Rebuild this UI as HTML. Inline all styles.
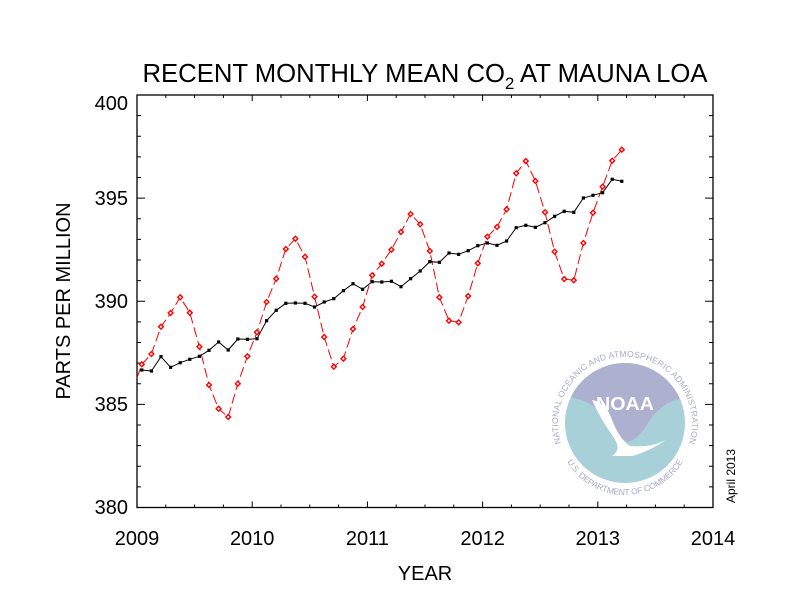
<!DOCTYPE html>
<html><head><meta charset="utf-8"><style>
html,body{margin:0;padding:0;background:#fff;}
svg{display:block;font-family:"Liberation Sans",Arial,sans-serif;}
</style></head><body>
<svg width="792" height="612" viewBox="0 0 792 612" xmlns="http://www.w3.org/2000/svg">
<rect width="792" height="612" fill="#fff"/>
<!-- NOAA logo -->
<g>
<defs><clipPath id="dc"><circle cx="625" cy="423" r="60"/></clipPath>
<path id="ring" d="M 570 462 A 67 67 0 1 1 680 462"/>
<path id="ring2" d="M 558 428 A 67 67 0 0 0 692 428"/></defs>
<g clip-path="url(#dc)">
<rect x="560" y="360" width="130" height="130" fill="#a8d0d8"/>
<path d="M560 360 L690 360 L690 398 Q 665 398 650 420 Q 640 438 628 442 Q 614 436 604 418 Q 592 398 560 396 Z" fill="#aeb0d0"/>
<path d="M592 400 Q 606 402 612 420 Q 620 440 630 446 Q 650 448 666 440 Q 648 452 632 456 L 612 456 Q 622 450 614 438 Q 600 418 592 400 Z" fill="#fff"/>
</g>
<text x="625" y="410" font-size="18" font-weight="bold" fill="#fff" text-anchor="middle" textLength="58" lengthAdjust="spacingAndGlyphs">NOAA</text>
<text font-size="8.5" fill="#a8aacc"><textPath href="#ring" startOffset="50%" text-anchor="middle" textLength="250" lengthAdjust="spacing">NATIONAL OCEANIC AND ATMOSPHERIC ADMINISTRATION</textPath></text>
<text font-size="8.5" fill="#a8aacc"><textPath href="#ring2" startOffset="50%" text-anchor="middle" textLength="140" lengthAdjust="spacing">U.S. DEPARTMENT OF COMMERCE</textPath></text>
</g>
<!-- axes box -->
<rect x="137" y="95" width="576" height="412.5" fill="none" stroke="#000" stroke-width="1.3"/>
<g stroke="#000" stroke-width="1">
<path d="M252.2 507.5v-6M367.4 507.5v-6M482.6 507.5v-6M597.8 507.5v-6M252.2 95v6M367.4 95v6M482.6 95v6M597.8 95v6"/>
<path d="M165.8 507.5v-3M194.6 507.5v-3M223.4 507.5v-3M281 507.5v-3M309.8 507.5v-3M338.6 507.5v-3M396.2 507.5v-3M425 507.5v-3M453.8 507.5v-3M511.4 507.5v-3M540.2 507.5v-3M569 507.5v-3M626.6 507.5v-3M655.4 507.5v-3M684.2 507.5v-3
M165.8 95v3M194.6 95v3M223.4 95v3M281 95v3M309.8 95v3M338.6 95v3M396.2 95v3M425 95v3M453.8 95v3M511.4 95v3M540.2 95v3M569 95v3M626.6 95v3M655.4 95v3M684.2 95v3"/>
<path d="M137 198.1h8M137 301.2h8M137 404.4h8M713 198.1h-8M713 301.2h-8M713 404.4h-8"/>
<path d="M137 115.6h4M137 136.3h4M137 156.9h4M137 177.5h4M137 218.8h4M137 239.4h4M137 260h4M137 280.6h4M137 321.9h4M137 342.5h4M137 363.1h4M137 383.8h4M137 425h4M137 445.6h4M137 466.3h4M137 486.9h4
M713 115.6h-4M713 136.3h-4M713 156.9h-4M713 177.5h-4M713 218.8h-4M713 239.4h-4M713 260h-4M713 280.6h-4M713 321.9h-4M713 342.5h-4M713 363.1h-4M713 383.8h-4M713 425h-4M713 445.6h-4M713 466.3h-4M713 486.9h-4"/>
</g>
<text x="425" y="82" font-size="26" text-anchor="middle" textLength="565" lengthAdjust="spacingAndGlyphs">RECENT MONTHLY MEAN CO<tspan font-size="17" dy="7">2</tspan><tspan dy="-7"> AT MAUNA LOA</tspan></text>
<g font-size="20" text-anchor="end">
<text x="128" y="110">400</text><text x="128" y="205">395</text><text x="128" y="308">390</text><text x="128" y="411">385</text><text x="128" y="514">380</text>
</g>
<g font-size="20" text-anchor="middle">
<text x="137" y="545">2009</text><text x="252.2" y="545">2010</text><text x="367.4" y="545">2011</text><text x="482.6" y="545">2012</text><text x="597.8" y="545">2013</text><text x="713" y="545">2014</text>
<text x="425" y="580">YEAR</text>
<text transform="translate(70,301) rotate(-90)">PARTS PER MILLION</text>
</g>
<text transform="translate(735,503) rotate(-90)" font-size="12">April 2013</text>
<polyline fill="none" stroke="#f00" stroke-width="1" stroke-dasharray="10,4" points="137,378 141.8,364.3 151.4,354 161,326.7 170.6,313 180.2,297.3 189.8,312.7 199.4,346.7 209,385 218.6,408.7 228.2,417 237.8,383.7 247.4,356.3 257,332.3 266.6,302 276.2,278.7 285.8,249 295.4,238.7 305,256.7 314.6,296.7 324.2,337 333.8,366.7 343.4,358.7 353,329 362.6,307 372.2,275.3 381.8,263.7 391.4,249.7 401,232 410.6,214 420.2,224.3 429.8,251 439.4,297.3 449,320.7 458.6,322.3 468.2,296 477.8,263.3 487.4,236.7 497,227 506.6,209.3 516.2,173.3 525.8,161 535.4,181 545,212.3 554.6,251.7 564.2,279 573.8,280.3 583.4,243 593,212.7 602.6,186.7 612.2,160.7 621.8,149.7"/>
<polyline fill="none" stroke="#000" stroke-width="1" points="141.8,370 151.4,371 161,356.7 170.6,367.3 180.2,362.7 189.8,359.3 199.4,356.3 209,350.3 218.6,342 228.2,350 237.8,339 247.4,339.3 257,338.7 266.6,320.7 276.2,310.3 285.8,303.3 295.4,303 305,303.3 314.6,307 324.2,302 333.8,298.7 343.4,290.7 353,283.7 362.6,289.3 372.2,281.7 381.8,282 391.4,281.3 401,286.7 410.6,278.7 420.2,271 429.8,261.7 439.4,262.3 449,253 458.6,254.3 468.2,250.7 477.8,245.7 487.4,243 497,245.3 506.6,241 516.2,227.7 525.8,225.3 535.4,227.3 545,222.7 554.6,216.3 564.2,211.3 573.8,212.3 583.4,198 593,195.3 602.6,192.7 612.2,179.3 621.8,181.3"/>
<g id="marks"></g>
<script>
(function(){
var ns="http://www.w3.org/2000/svg";
var g=document.getElementById("marks");
var pl=document.querySelectorAll("polyline");
var red=pl[0].getAttribute("points").trim().split(/\s+/).slice(1);
red.forEach(function(p){var a=p.split(",");var c=document.createElementNS(ns,"rect");
c.setAttribute("x",+a[0]-1.7);c.setAttribute("y",+a[1]-1.7);c.setAttribute("width",3.4);c.setAttribute("height",3.4);
c.setAttribute("transform","rotate(45 "+a[0]+" "+a[1]+")");c.setAttribute("fill","#fff");c.setAttribute("stroke","#f00");c.setAttribute("stroke-width","1.4");g.appendChild(c);});
var bl=pl[1].getAttribute("points").trim().split(/\s+/);
bl.forEach(function(p){var a=p.split(",");var c=document.createElementNS(ns,"rect");
c.setAttribute("x",+a[0]-1.6);c.setAttribute("y",+a[1]-1.6);c.setAttribute("width",3.2);c.setAttribute("height",3.2);c.setAttribute("fill","#000");g.appendChild(c);});
})();
</script>
</svg>
</body></html>
